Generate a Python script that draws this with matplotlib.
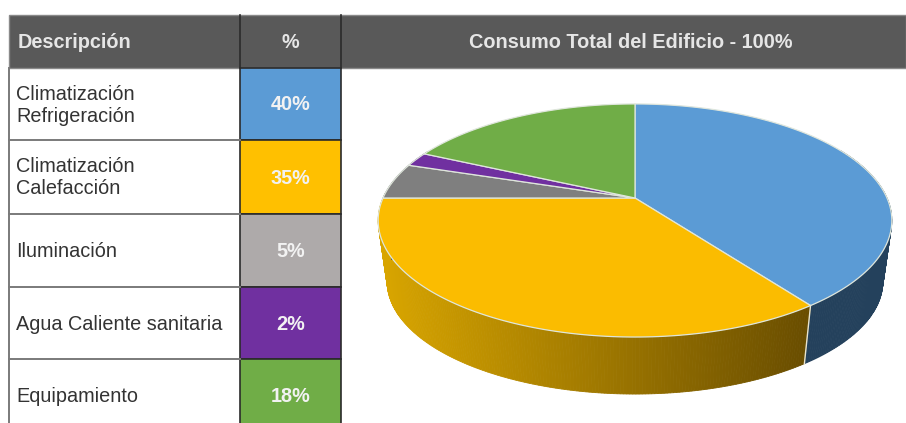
import numpy as np
import matplotlib
matplotlib.use("Agg")
import matplotlib.pyplot as plt
from matplotlib.patches import Rectangle, Polygon
from matplotlib.colors import to_rgb

# data
headers = ["Descripción", "%", "Consumo Total del Edificio - 100%"]
labels = ["Climatización\nRefrigeración", "Climatización\nCalefacción", "Iluminación",
          "Agua Caliente sanitaria", "Equipamiento"]
values = [40, 35, 5, 2, 18]
cell_colors = ["#5B9BD5", "#FFC000", "#AEAAAA", "#7030A0", "#70AD47"]
slice_colors = ["#5B9BD5", "#FBBC00", "#7F7F7F", "#7030A0", "#70AD47"]

plt.rcParams['font.family'] = ['Liberation Sans', 'DejaVu Sans']

fig = plt.figure(figsize=(9.06, 4.23), dpi=100)
ax = fig.add_axes([0, 0, 1, 1])
ax.set_xlim(0, 906)
ax.set_ylim(423, 0)
ax.axis("off")

# table layout
col_x = [9, 240, 341, 906]
row_y = [68, 140, 214, 287, 359, 430]
head_top = 15
dark = "#2b2b2b"
line = "#7a7a7a"
fs = 14.3

ax.add_patch(Rectangle((col_x[0], head_top), col_x[3] - col_x[0], row_y[0] - head_top,
                       fc="#595959", ec="#8a8a8a", lw=1))
for x in col_x[1:3]:
    ax.plot([x, x], [head_top, row_y[0]], color=dark, lw=1.2)
ax.text(col_x[0] + 9, 42, headers[0], color="#e6e6e6", fontsize=fs, weight="bold", va="center")
ax.text((col_x[1] + col_x[2]) / 2, 42, headers[1], color="#e6e6e6", fontsize=fs, weight="bold",
        va="center", ha="center")
ax.text(631, 42, headers[2], color="#e6e6e6", fontsize=fs, weight="bold", va="center", ha="center")

for i, lab in enumerate(labels):
    top, bot = row_y[i], row_y[i + 1]
    ypos = (top + bot) / 2 + 1 if i < 4 else 397
    ax.add_patch(Rectangle((col_x[1], top), col_x[2] - col_x[1], bot - top,
                           fc=cell_colors[i], ec=dark, lw=1.2))
    ax.plot([col_x[0], col_x[1]], [bot, bot], color=line, lw=1.4)
    ax.text(col_x[0] + 7, ypos, lab, color="#333333", fontsize=fs, va="center", linespacing=1.2)
    ax.text((col_x[1] + col_x[2]) / 2, ypos, "%d%%" % values[i],
            color="#f2f2f2", fontsize=fs, weight="bold", va="center", ha="center")
ax.plot([col_x[0], col_x[0]], [row_y[0], 423], color=line, lw=1.4)


# perspective pie: unit circle -> screen
def project(theta):
    # theta measured clockwise from the top
    X, Y = np.sin(theta), np.cos(theta)
    d = 1 + 0.193 * Y
    return 635 + 252 * X / d, 198 - 112.2 * Y / d


def extrude(x, y):
    return 635 + 0.965 * (x - 635), 1966 + 0.965 * (y - 1966)


edges = np.cumsum([0] + values) / 100 * 2 * np.pi
apex = (635, 198)

# side wall, shaded left to right
for i, col in enumerate(slice_colors):
    t = np.linspace(edges[i], edges[i + 1], int(values[i] * 6) + 2)
    x, y = project(t)
    xb, yb = extrude(x, y)
    for j in range(len(t) - 1):
        if np.cos(t[j]) > 0.45 and np.cos(t[j + 1]) > 0.45:
            continue
        if i == 1:
            f = np.clip((x[j] - 380) / (808 - 380), 0, 1)
            c = np.array(to_rgb("#D8A500")) * (1 - f) + np.array(to_rgb("#6A4E00")) * f
        elif i == 0:
            c = to_rgb("#24415C")
        else:
            c = np.array(to_rgb(col)) * 0.7
        ax.add_patch(Polygon([(x[j], y[j]), (x[j + 1], y[j + 1]), (xb[j + 1], yb[j + 1]), (xb[j], yb[j])],
                             fc=c, ec=c, lw=0.6))

# top face
for i, col in enumerate(slice_colors):
    t = np.linspace(edges[i], edges[i + 1], 120)
    x, y = project(t)
    pts = np.vstack([[apex], np.column_stack([x, y])])
    ax.add_patch(Polygon(pts, fc=col, ec="#dfe6dc", lw=0.9, joinstyle="round"))

# seam on the wall between blue and yellow
sx, sy = project(np.array(edges[1]))
bx, by = extrude(sx, sy)
ax.plot([sx, bx], [sy, by], color="#e8e4d0", lw=1)

fig.savefig("out.png", dpi=100)
